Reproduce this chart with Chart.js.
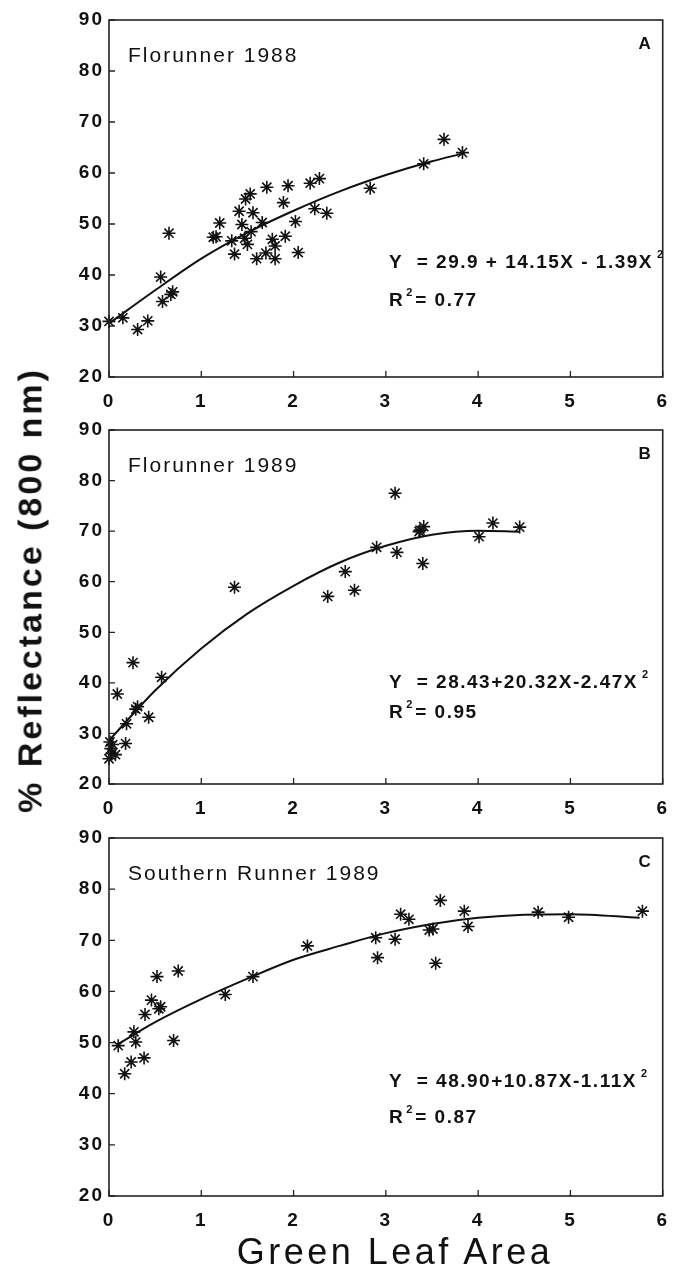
<!DOCTYPE html>
<html>
<head>
<meta charset="utf-8">
<script src="https://cdn.jsdelivr.net/npm/chart.js@4.4.1/dist/chart.umd.min.js"></script>
<style>
  html, body { margin: 0; padding: 0; background: #fff; }
  #wrap { position: relative; width: 682px; height: 1270px; background: #fff; overflow: hidden; }
  .panel { position: absolute; left: 0; width: 682px; }
  #ytitle {
    position: absolute; left: 30px; top: 590px;
    transform: translate(-50%, -50%) rotate(-90deg);
    font: bold 34px "Liberation Sans", Arial, sans-serif; letter-spacing: 3px;
    white-space: nowrap; color: #111;
  }
  #xtitle {
    position: absolute; left: 395px; top: 1252px;
    transform: translate(-50%, -50%);
    font: 36px "Liberation Sans", Arial, sans-serif; letter-spacing: 3.5px;
    line-height: 1; white-space: nowrap; color: #111;
  }
</style>
</head>
<body>
<div id="wrap">
  <div class="panel" style="top:0;height:415px"><canvas id="chartA"></canvas></div>
  <div class="panel" style="top:412px;height:420px"><canvas id="chartB"></canvas></div>
  <div class="panel" style="top:820px;height:450px"><canvas id="chartC"></canvas></div>
  <div id="ytitle">% Reflectance (800 nm)</div>
  <div id="xtitle">Green Leaf Area</div>
</div>
<script>
// Assi
const xTicks = [0, 1, 2, 3, 4, 5, 6];
const yTicks = [20, 30, 40, 50, 60, 70, 80, 90];

// Pannello A - Florunner 1988
const glaA = [0.00, 0.15, 0.31, 0.42, 0.56, 0.58, 0.65, 0.67, 0.69, 1.13, 1.16, 1.20, 1.33, 1.36, 1.41, 1.44, 1.47, 1.48, 1.50, 1.53, 1.54,
  1.56, 1.60, 1.66, 1.70, 1.71, 1.77, 1.80, 1.80, 1.89, 1.91, 1.94, 2.02, 2.05, 2.18, 2.23, 2.28, 2.36, 2.83, 3.41, 3.63, 3.83];
const reflA = [30.9, 31.6, 29.3, 31.0, 39.6, 34.8, 48.2, 36.2, 36.7, 47.4, 47.5, 50.2, 46.7, 44.1, 52.5, 49.9, 47.2, 54.9, 46.0, 55.9, 48.5,
  52.2, 43.2, 50.3, 44.3, 57.2, 47.0, 45.7, 43.2, 54.2, 47.6, 57.5, 50.5, 44.4, 58.0, 53.0, 58.9, 52.1, 57.0, 61.8, 66.6, 64.0];
const fitXA = [0, 0.5, 1, 1.5, 2, 2.5, 3, 3.5, 3.83];
const fitYA = [30.5, 37.0, 43.2, 48.3, 52.6, 56.4, 59.6, 62.3, 63.8];

// Pannello B - Florunner 1989
const glaB = [0.00, 0.01, 0.02, 0.03, 0.04, 0.07, 0.09, 0.18, 0.19, 0.26, 0.29, 0.31, 0.43, 0.57, 1.36, 2.37, 2.56, 2.66, 2.90, 3.10,
  3.12, 3.36, 3.37, 3.40, 3.41, 4.01, 4.16, 4.45];
const reflB = [25.0, 28.3, 27.0, 26.0, 27.8, 25.8, 37.8, 28.0, 31.9, 44.0, 34.8, 35.3, 33.2, 41.1, 58.9, 57.1, 62.0, 58.3, 66.8, 77.5,
  65.8, 69.9, 70.2, 63.6, 70.9, 68.9, 71.6, 70.8];
const fitXB = [0, 0.5, 1, 1.5, 2, 2.5, 3, 3.5, 4, 4.45];
const fitYB = [28.6, 38.5, 46.8, 53.7, 59.2, 63.8, 67.1, 69.3, 70.1, 69.9];

// Pannello C - Southern Runner 1989
const glaC = [0.10, 0.17, 0.24, 0.27, 0.29, 0.38, 0.39, 0.46, 0.52, 0.54, 0.56, 0.70, 0.75, 1.26, 1.56, 2.15, 2.89, 2.91, 3.10, 3.16,
  3.25, 3.47, 3.51, 3.54, 3.59, 3.85, 3.89, 4.65, 4.98, 5.78];
const reflC = [49.4, 43.9, 46.2, 52.1, 50.1, 47.0, 55.5, 58.3, 62.9, 56.6, 57.0, 50.4, 64.0, 59.4, 62.9, 68.9, 70.5, 66.6, 70.2, 75.1,
  74.1, 72.0, 72.2, 65.5, 77.8, 75.7, 72.7, 75.5, 74.5, 75.7];
const fitXC = [0.08, 0.5, 1, 1.5, 2, 2.5, 3, 3.5, 4, 4.5, 5, 5.75];
const fitYC = [49.5, 54.0, 58.5, 62.5, 66.2, 68.9, 71.4, 73.2, 74.4, 75.0, 75.1, 74.4];

const ink = '#111';
const fontFamily = '"Liberation Sans", Arial, sans-serif';

// Spaziatura delle cifre sugli assi
const tickSpacing = {
  id: 'tickSpacing',
  beforeLayout(chart) { chart.ctx.letterSpacing = '2px'; },
  beforeDraw(chart) { chart.ctx.letterSpacing = '2px'; }
};

// Cornice, tacche interne e testi del pannello
const panelDecor = {
  id: 'panelDecor',
  afterDraw(chart, args, opts) {
    const { ctx, chartArea: a, scales: { x, y } } = chart;
    ctx.save();
    ctx.letterSpacing = '0px';
    ctx.strokeStyle = '#222';
    ctx.lineWidth = 1.6;
    ctx.strokeRect(a.left, a.top, a.right - a.left, a.bottom - a.top);

    ctx.lineWidth = 1.3;
    ctx.beginPath();
    xTicks.forEach(v => {
      const px = x.getPixelForValue(v);
      ctx.moveTo(px, a.bottom);
      ctx.lineTo(px, a.bottom - 6);
    });
    yTicks.forEach(v => {
      const py = y.getPixelForValue(v);
      ctx.moveTo(a.left, py);
      ctx.lineTo(a.left + 6, py);
    });
    ctx.stroke();

    ctx.fillStyle = ink;
    ctx.textBaseline = 'alphabetic';
    ctx.textAlign = 'left';
    ctx.letterSpacing = '2px';
    ctx.font = '21px ' + fontFamily;
    ctx.fillText(opts.title, a.left + 19, a.top + 42);

    ctx.letterSpacing = '0px';
    ctx.textAlign = 'right';
    ctx.font = 'bold 17px ' + fontFamily;
    ctx.fillText(opts.letter, a.right - 12, a.top + 29);

    // equazione e R^2
    ctx.textAlign = 'left';
    ctx.letterSpacing = '1.5px';
    const ex = a.left + 280;
    const ey = a.top + opts.eqDy;
    const ey2 = ey + opts.gap;
    ctx.font = 'bold 19px ' + fontFamily;
    ctx.fillText(opts.eq, ex, ey);
    const wEq = ctx.measureText(opts.eq).width;
    ctx.fillText('R', ex, ey2);
    const wR = ctx.measureText('R').width;
    ctx.fillText('= ' + opts.r2, ex + wR + 11, ey2);
    ctx.letterSpacing = '0px';
    ctx.font = 'bold 11px ' + fontFamily;
    ctx.fillText('2', ex + wEq + 4, ey - 10);
    ctx.fillText('2', ex + wR + 2, ey2 - 10);
    ctx.restore();
  }
};

function toPoints(xs, ys) {
  return xs.map((v, i) => ({ x: v, y: ys[i] }));
}

// Crea un pannello del grafico
function makePanel(id, gla, refl, fitX, fitY, pad, text) {
  return new Chart(document.getElementById(id), {
    type: 'scatter',
    data: {
      datasets: [{
        data: toPoints(gla, refl),
        pointStyle: 'star',
        pointRadius: 6.5,
        borderColor: ink,
        borderWidth: 1.6,
        clip: false
      }, {
        data: toPoints(fitX, fitY),
        showLine: true,
        pointRadius: 0,
        borderColor: ink,
        borderWidth: 2,
        cubicInterpolationMode: 'monotone'
      }]
    },
    options: {
      responsive: true,
      maintainAspectRatio: false,
      animation: false,
      layout: { padding: { top: pad.top, right: 6, bottom: pad.bottom, left: 0 } },
      plugins: {
        legend: { display: false },
        tooltip: { enabled: false },
        panelDecor: text
      },
      scales: {
        x: {
          type: 'linear', min: 0, max: 6,
          afterBuildTicks: s => { s.ticks = xTicks.map(v => ({ value: v })); },
          afterFit: s => { s.height = 38; },
          grid: { display: false, drawTicks: false },
          border: { display: false },
          ticks: { color: ink, padding: 13, font: { family: fontFamily, size: 19, weight: 'bold' } }
        },
        y: {
          type: 'linear', min: 20, max: 90,
          afterBuildTicks: s => { s.ticks = yTicks.map(v => ({ value: v })); },
          afterFit: s => { s.width = 109; },
          grid: { display: false, drawTicks: false },
          border: { display: false },
          ticks: { color: ink, padding: 5, font: { family: fontFamily, size: 19, weight: 'bold' } }
        }
      }
    },
    plugins: [tickSpacing, panelDecor]
  });
}

makePanel('chartA', glaA, reflA, fitXA, fitYA, { top: 20, bottom: 0 },
  { title: 'Florunner 1988', letter: 'A', eq: 'Y  = 29.9 + 14.15X - 1.39X', r2: '0.77', eqDy: 248, gap: 38 });
makePanel('chartB', glaB, reflB, fitXB, fitYB, { top: 18, bottom: 10 },
  { title: 'Florunner 1989', letter: 'B', eq: 'Y  = 28.43+20.32X-2.47X', r2: '0.95', eqDy: 258, gap: 30 });
makePanel('chartC', glaC, reflC, fitXC, fitYC, { top: 18, bottom: 36 },
  { title: 'Southern Runner 1989', letter: 'C', eq: 'Y  = 48.90+10.87X-1.11X', r2: '0.87', eqDy: 249, gap: 36 });
</script>
</body>
</html>
